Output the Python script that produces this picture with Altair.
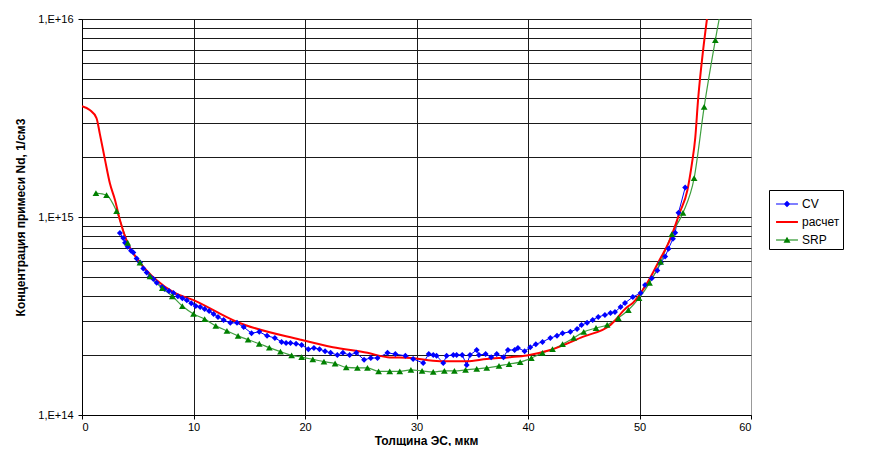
import altair as alt
import pandas as pd

FONT = "Liberation Sans"

# ---------------- data ----------------
cv_x = [3.4, 3.7, 3.86, 4.1, 4.4, 4.6, 4.9, 5.2, 5.5, 5.8, 6.1, 6.4, 6.7, 7.2, 7.4, 7.8,
        8.2, 8.6, 9.0, 9.4, 9.8, 10.2, 10.6, 11.0, 11.4, 11.8, 12.2, 12.7, 13.3, 13.9,
        14.5, 15.2, 15.9, 16.6, 17.3, 17.9, 18.3, 18.7, 19.2, 19.7, 20.3, 20.8, 21.3,
        21.8, 22.3, 22.9, 23.4, 24.0, 24.6, 25.3, 25.9, 26.5, 27.4, 28.1, 29.0, 29.7,
        30.6, 31.1, 31.5, 31.8, 32.4, 32.7, 33.3, 33.6, 34.1, 34.5, 34.8, 35.4, 35.6,
        36.2, 36.7, 37.2, 37.8, 38.2, 38.8, 39.1, 39.7, 40.2, 40.7, 41.3, 42.0, 42.6,
        43.1, 43.8, 44.4, 44.8, 45.3, 45.8, 46.3, 46.9, 47.4, 47.8, 48.3, 48.7, 49.4,
        50.1, 50.5, 51.1, 51.6, 51.9, 52.3, 52.6, 53.0, 53.2, 53.5, 54.1]
cv_n = [8.30e14, 7.83e14, 7.41e14, 7.08e14, 6.76e14, 6.61e14, 6.17e14, 5.89e14, 5.50e14,
        5.25e14, 5.01e14, 4.86e14, 4.65e14, 4.43e14, 4.33e14, 4.23e14, 4.13e14, 3.98e14,
        3.89e14, 3.80e14, 3.67e14, 3.55e14, 3.51e14, 3.43e14, 3.35e14, 3.24e14, 3.13e14,
        3.02e14, 2.92e14, 2.92e14, 2.78e14, 2.59e14, 2.63e14, 2.51e14, 2.45e14, 2.34e14,
        2.31e14, 2.31e14, 2.29e14, 2.26e14, 2.15e14, 2.18e14, 2.15e14, 2.10e14, 2.06e14,
        2.01e14, 2.06e14, 2.01e14, 2.06e14, 1.90e14, 1.94e14, 1.94e14, 2.06e14, 2.03e14,
        1.99e14, 1.92e14, 1.83e14, 2.03e14, 2.01e14, 1.99e14, 1.83e14, 1.99e14, 2.01e14,
        2.01e14, 2.01e14, 1.79e14, 2.01e14, 2.13e14, 2.01e14, 2.03e14, 1.96e14, 2.03e14,
        1.96e14, 2.13e14, 2.13e14, 2.18e14, 2.10e14, 2.20e14, 2.28e14, 2.34e14, 2.45e14,
        2.51e14, 2.59e14, 2.63e14, 2.72e14, 2.85e14, 2.92e14, 3.02e14, 3.13e14, 3.20e14,
        3.27e14, 3.31e14, 3.51e14, 3.68e14, 3.94e14, 4.13e14, 4.54e14, 4.90e14, 5.37e14,
        5.89e14, 6.31e14, 6.92e14, 7.76e14, 8.32e14, 1.05e15, 1.41e15]

calc_x = [0, 0.7, 1.3, 1.6, 2.06, 2.5, 2.96, 3.4, 4.0, 5.2, 6.7, 8.2, 10.0, 13.9, 19.6,
          22.5, 25.6, 27.4, 29.5, 32.1, 34.5, 36.3, 38.4, 39.9, 42.0, 44.9, 47.4, 48.9,
          49.4, 50.7, 51.8, 52.7, 53.6, 54.3, 54.7, 55.0, 55.25, 55.7, 56.05]
calc_n = [3.63e15, 3.47e15, 3.16e15, 2.63e15, 1.95e15, 1.48e15, 1.22e15, 9.66e14, 7.59e14,
          5.89e14, 4.79e14, 4.17e14, 3.80e14, 2.95e14, 2.40e14, 2.20e14, 2.06e14, 1.96e14,
          1.94e14, 1.87e14, 1.87e14, 1.92e14, 1.96e14, 2.00e14, 2.13e14, 2.48e14, 2.85e14,
          3.51e14, 3.68e14, 4.65e14, 6.07e14, 7.59e14, 1.05e15, 1.37e15, 1.86e15, 2.51e15,
          3.89e15, 6.92e15, 1.00e16]

srp_x = [1.25, 2.2, 3.1, 4.1, 5.2, 6.1, 7.2, 8.1, 9.0, 10.0, 11.0, 12.0, 13.0, 14.0, 14.9,
         15.9, 16.8, 17.8, 18.8, 19.7, 20.7, 21.7, 22.7, 23.7, 24.7, 25.6, 26.6, 27.6, 28.5,
         29.5, 30.5, 31.5, 32.5, 33.4, 34.4, 35.4, 36.3, 37.4, 38.3, 39.3, 40.3, 41.3, 42.2,
         43.1, 44.1, 45.0, 46.1, 47.1, 48.1, 49.0, 49.96, 50.9, 51.9, 52.9, 53.9, 54.9, 55.8,
         56.8, 57.8]
srp_n = [1.32e15, 1.29e15, 1.07e15, 7.41e14, 5.89e14, 5.01e14, 4.37e14, 3.98e14, 3.55e14,
         3.24e14, 3.05e14, 2.82e14, 2.66e14, 2.51e14, 2.40e14, 2.29e14, 2.19e14, 2.09e14,
         2.00e14, 1.96e14, 1.91e14, 1.86e14, 1.82e14, 1.74e14, 1.73e14, 1.73e14, 1.66e14,
         1.66e14, 1.66e14, 1.69e14, 1.67e14, 1.65e14, 1.67e14, 1.67e14, 1.69e14, 1.71e14,
         1.73e14, 1.77e14, 1.81e14, 1.85e14, 1.94e14, 2.06e14, 2.15e14, 2.28e14, 2.45e14,
         2.63e14, 2.75e14, 2.85e14, 3.09e14, 3.39e14, 3.89e14, 4.65e14, 5.93e14, 8.20e14,
         1.05e15, 1.57e15, 3.60e15, 7.83e15, 1.55e16]

series_names = ["CV", "расчет", "SRP"]
series_colors = ["#0000FF", "#FF0000", "#008000"]
# legend symbols: line stub + marker (filled paths)
legend_paths = [
    "M-1,-0.055L1,-0.055L1,0.055L-1,0.055Z M0,-0.3L0.3,0L0,0.3L-0.3,0Z",
    "M-1,-0.09L1,-0.09L1,0.09L-1,0.09Z",
    "M-1,-0.055L1,-0.055L1,0.055L-1,0.055Z M0,-0.3L0.32,0.25L-0.32,0.25Z",
]

x_ticks = [0, 10, 20, 30, 40, 50, 60]
y_grid = [m * 10 ** e for e in (14, 15) for m in range(1, 10)] + [1e16]

# ---------------- chart ----------------
cv = pd.DataFrame({"x": cv_x, "n": cv_n})
calc = pd.DataFrame({"x": calc_x, "n": calc_n})
srp = pd.DataFrame({"x": srp_x, "n": srp_n})
leg = pd.DataFrame({"series": series_names})

xs = alt.Scale(domain=[0, 60], nice=False, zero=False)
ys = alt.Scale(type="log", domain=[1e14, 1e16], nice=False)

x_axis = alt.Axis(
    values=x_ticks, title="Толщина ЭС, мкм", format="d",
    gridColor={"condition": {"test": "datum.value == 60", "value": "#999999"}, "value": "#1a1a1a"},
    tickSize=4, labelPadding=2, titlePadding=3, titleX=344,
)
decade_test = "datum.value == 1e14 || datum.value == 1e15 || datum.value == 1e16"
y_axis = alt.Axis(
    values=y_grid, title="Концентрация примеси Nd, 1/см3",
    labelExpr="datum.value == 1e14 ? '1,E+14' : datum.value == 1e15 ? '1,E+15' : datum.value == 1e16 ? '1,E+16' : ''",
    labelOverlap=False,
    tickColor={"condition": {"test": decade_test, "value": "#000000"}, "value": "transparent"},
    tickSize=4, labelPadding=5, titlePadding=10,
)

X = alt.X("x:Q", scale=xs, axis=x_axis)
Y = alt.Y("n:Q", scale=ys, axis=y_axis)

cv_line = alt.Chart(cv).mark_line(color="#0000FF", strokeWidth=1, clip=True).encode(x=X, y=Y)
cv_pts = alt.Chart(cv).mark_point(shape="diamond", filled=True, color="#0000FF", size=36,
                                  opacity=1, clip=True).encode(x=X, y=Y)
srp_line = alt.Chart(srp).mark_line(color="#3f9f3f", strokeWidth=1.2, interpolate="monotone",
                                    clip=True).encode(x=X, y=Y)
srp_pts = alt.Chart(srp).mark_point(shape="triangle-up", filled=True, color="#008000", size=45,
                                    opacity=1, clip=True).encode(x=X, y=Y)
calc_line = alt.Chart(calc).mark_line(color="#FF0000", strokeWidth=2, interpolate="monotone",
                                      clip=True).encode(x=X, y=Y)

legend_def = alt.Legend(
    title=None, orient="none", legendX=687, legendY=171,
    strokeColor="#000000", fillColor="#ffffff", padding=3, symbolOffset=4,
    symbolSize=480, symbolStrokeWidth=0, labelFont=FONT, labelFontSize=12,
    labelColor="#000000", labelOffset=4, rowPadding=1,
)
legend_layer = alt.Chart(leg).mark_point(filled=True, opacity=1).encode(
    color=alt.Color("series:N", scale=alt.Scale(domain=series_names, range=series_colors),
                    legend=legend_def),
    shape=alt.Shape("series:N", scale=alt.Scale(domain=series_names, range=legend_paths),
                    legend=legend_def),
).transform_filter("false")

chart = alt.layer(cv_line, srp_line, calc_line, cv_pts, srp_pts, legend_layer).properties(
    width=669, height=396,
    autosize=alt.AutoSizeParams(type="none"),
    padding={"left": 74, "top": 11, "right": 118, "bottom": 31},
    background="#ffffff",
).configure_view(
    stroke="#999999", strokeWidth=1,
).configure_axis(
    labelFont=FONT, labelFontSize=11, labelColor="#000000",
    titleFont=FONT, titleFontSize=12, titleFontWeight="bold", titleColor="#000000",
    domainColor="#000000", tickColor="#000000", gridColor="#1a1a1a", gridOpacity=1,
    gridWidth=1, grid=True,
)

chart.save("out.html", embed_options={"renderer": "svg", "actions": False})
